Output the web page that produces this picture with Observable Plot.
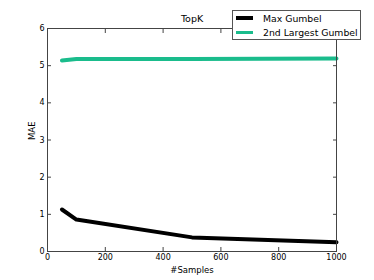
<!DOCTYPE html>
<html><head><meta charset="utf-8">
<script src="https://cdn.jsdelivr.net/npm/d3@7"></script>
<script src="https://cdn.jsdelivr.net/npm/@observablehq/plot@0.6"></script>
<style>
body{margin:0;background:#fff;font-family:"DejaVu Sans",sans-serif;}
#wrap{position:relative;width:374px;height:280px;}
#legend{position:absolute;left:232px;top:10px;width:127px;height:28px;border:1px solid #555;background:#fff;font-size:9.3px;color:#000;}
#legend .row{position:absolute;left:3px;height:12px;display:flex;align-items:center;}
#legend .sw{width:17px;height:3.5px;margin-right:10px;}
</style>
</head><body>
<div id="wrap"></div>
<script>
const title = "TopK";
const xLabel = "#Samples";
const yLabel = "MAE";
const seriesNames = ["Max Gumbel", "2nd Largest Gumbel"];
const seriesColors = ["#000000", "#1abc8c"];
const samples = [50, 100, 500, 1000];
const maxGumbel = [1.13, 0.86, 0.38, 0.25];
const secondGumbel = [5.14, 5.18, 5.18, 5.19];
const xTicks = [0, 200, 400, 600, 800, 1000];
const yTicks = [0, 1, 2, 3, 4, 5, 6];

const data = [];
samples.forEach((s, i) => data.push({s, v: maxGumbel[i], k: seriesNames[0]}));
samples.forEach((s, i) => data.push({s, v: secondGumbel[i], k: seriesNames[1]}));

const fmt = d => String(d);
const chart = Plot.plot({
  width: 374, height: 280,
  marginLeft: 47, marginRight: 38, marginTop: 28, marginBottom: 29,
  style: {fontFamily: "DejaVu Sans, sans-serif", fontSize: "8px", background: "#fff"},
  x: {domain: [0, 1000]},
  y: {domain: [0, 6]},
  color: {domain: seriesNames, range: seriesColors},
  marks: [
    Plot.line(data, {x: "s", y: "v", z: "k", stroke: "k", strokeWidth: 4, strokeLinejoin: "round"}),
    Plot.frame({stroke: "#444", strokeWidth: 1}),
    Plot.axisX({ticks: xTicks, tickSize: -4, tickPadding: 7, tickFormat: fmt, label: null, stroke: "#444"}),
    Plot.axisX({anchor: "top", ticks: xTicks, tickSize: -4, tickFormat: () => "", label: null, stroke: "#444"}),
    Plot.axisY({ticks: yTicks, tickSize: -4, tickPadding: 7, tickFormat: fmt, label: null, stroke: "#444"}),
    Plot.axisY({anchor: "right", ticks: yTicks, tickSize: -4, tickFormat: () => "", label: null, stroke: "#444"}),
    Plot.text([title], {frameAnchor: "top", dy: -7, lineAnchor: "bottom", fontSize: 9.5, text: d => d}),
    Plot.text([xLabel], {frameAnchor: "bottom", dy: 21, lineAnchor: "bottom", fontSize: 8.5, text: d => d}),
    Plot.text([yLabel], {frameAnchor: "left", dx: -15, rotate: -90, fontSize: 8.5, text: d => d})
  ]
});
const wrap = document.getElementById("wrap");
wrap.appendChild(chart);
const lg = document.createElement("div");
lg.id = "legend";
seriesNames.forEach((n, i) => {
  const r = document.createElement("div");
  r.className = "row";
  r.style.top = (1 + i * 14.5) + "px";
  const sw = document.createElement("span");
  sw.className = "sw";
  sw.style.background = seriesColors[i];
  const t = document.createElement("span");
  t.textContent = n;
  r.appendChild(sw); r.appendChild(t);
  lg.appendChild(r);
});
wrap.appendChild(lg);
</script>
</body></html>
